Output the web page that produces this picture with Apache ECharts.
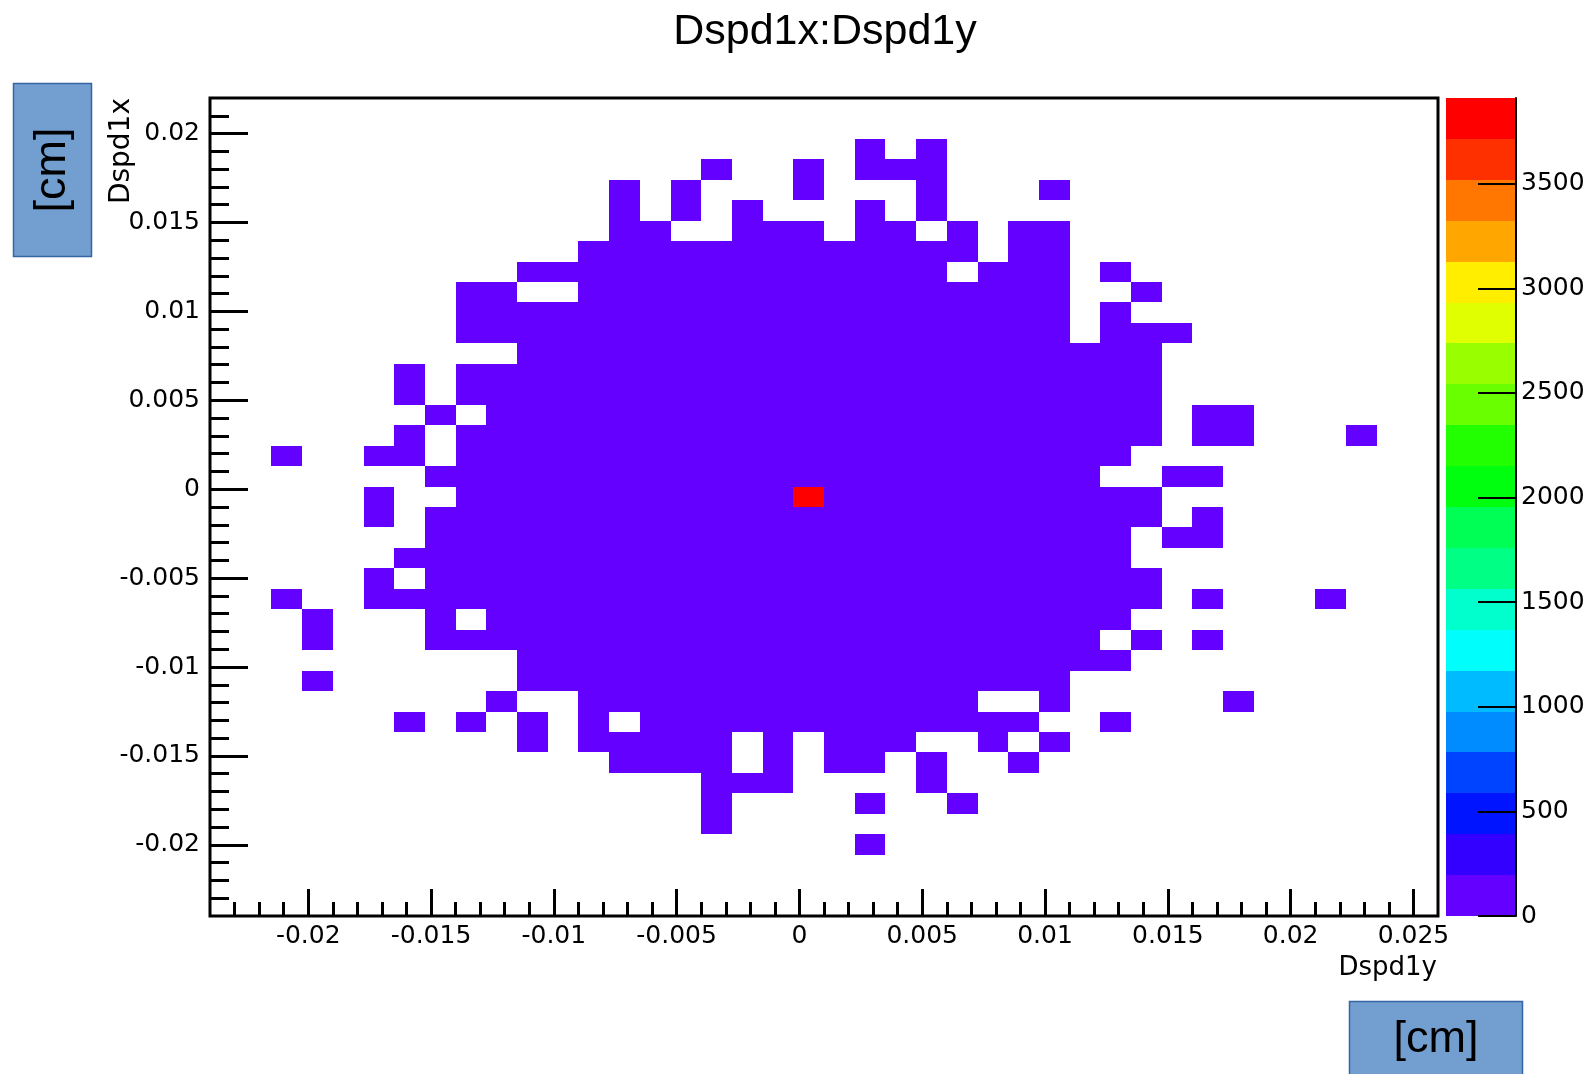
<!DOCTYPE html>
<html>
<head>
<meta charset="utf-8">
<script src="https://cdn.jsdelivr.net/npm/echarts@6/dist/echarts.min.js"></script>
<style>
html,body{margin:0;padding:0;background:#fff;}
#chart{width:1592px;height:1074px;}
</style>
</head>
<body>
<div id="chart"></div>
<script>
// ---------- data ----------
const chartTitle = 'Dspd1x:Dspd1y';
const xTitle = 'Dspd1y';
const yTitle = 'Dspd1x';
const unitLabel = '[cm]';

const xRange = [-0.024, 0.026];   // Dspd1y
const yRange = [-0.024, 0.022];   // Dspd1x
const nBinsX = 40;
const nBinsY = 40;

const xMajorTicks = [-0.02, -0.015, -0.01, -0.005, 0, 0.005, 0.01, 0.015, 0.02, 0.025];
const yMajorTicks = [-0.02, -0.015, -0.01, -0.005, 0, 0.005, 0.01, 0.015, 0.02];

const zMax = 3910;
const zTicks = [0, 500, 1000, 1500, 2000, 2500, 3000, 3500];

// colour bands of the z scale, bottom (0) to top (zMax)
const bandColors = [
  '#6300ff', '#3300ff', '#0014ff', '#0044ff', '#008bff',
  '#00bbff', '#00fffc', '#00ffcc', '#00ff85', '#00ff55',
  '#00ff0e', '#22ff00', '#69ff00', '#99ff00', '#e0ff00',
  '#ffee00', '#ffa700', '#ff7700', '#ff3000', '#ff0000'
];

// one string per y bin, top row first; one char per x bin, left to right.
// '.' = empty bin, otherwise the colour band (base-20 digit, '0' lowest, 'j' highest)
const cellRows = [
  '.......... .......... .......... ..........',
  '.......... .......... .......... ..........',
  '.......... .......... .0.0...... ..........',
  '.......... ......0..0 .000...... ..........',
  '.......... ...0.0...0 ...0...0.. ..........',
  '.......... ...0.0.0.. .0.0...... ..........',
  '.......... ...00..000 .00.0.00.. ..........',
  '.......... ..00000000 00000.00.. ..........',
  '.......... 0000000000 0000.000.0 ..........',
  '........00 ..00000000 00000000.. 0.........',
  '........00 0000000000 00000000.0 ..........',
  '........00 0000000000 00000000.0 00........',
  '.......... 0000000000 0000000000 0.........',
  '......0.00 0000000000 0000000000 0.........',
  '......0.00 0000000000 0000000000 0.........',
  '.......0.0 0000000000 0000000000 0.00......',
  '......0.00 0000000000 0000000000 0.00...0..',
  '..0..00.00 0000000000 0000000000 ..........',
  '.......000 0000000000 000000000. .00.......',
  '.....0..00 000000000j 0000000000 0.........',
  '.....0.000 0000000000 0000000000 0.0.......',
  '.......000 0000000000 0000000000 .00.......',
  '......0000 0000000000 0000000000 ..........',
  '.....0.000 0000000000 0000000000 0.........',
  '..0..00000 0000000000 0000000000 0.0...0...',
  '...0...0.0 0000000000 0000000000 ..........',
  '...0...000 0000000000 000000000. 0.0.......',
  '.......... 0000000000 0000000000 ..........',
  '...0...... 0000000000 00000000.. ..........',
  '.........0 ..00000000 00000..0.. ...0......',
  '......0.0. 0.0.000000 0000000..0 ..........',
  '.......... 0.00000.0. 000..0.0.. ..........',
  '.......... ...0000.0. 00.0..0... ..........',
  '.......... ......000. ...0...... ..........',
  '.......... ......0... .0..0..... ..........',
  '.......... ......0... .......... ..........',
  '.......... .......... .0........ ..........',
  '.......... .......... .......... ..........',
  '.......... .......... .......... ..........',
  '.......... .......... .......... ..........'
];

// ---------- build series data ----------
const xBinW = (xRange[1] - xRange[0]) / nBinsX;
const yBinH = (yRange[1] - yRange[0]) / nBinsY;
const bandSize = zMax / bandColors.length;

const cells = [];
cellRows.forEach(function (row, r) {
  const s = row.replace(/ /g, '');
  const j = nBinsY - 1 - r;
  for (let c = 0; c < s.length; c++) {
    const ch = s[c];
    if (ch === '.') continue;
    const band = parseInt(ch, 20);
    cells.push([xRange[0] + (c + 0.5) * xBinW, yRange[0] + (j + 0.5) * yBinH, (band + 0.5) * bandSize]);
  }
});

const barBands = bandColors.map(function (_, k) {
  return [k * bandSize, (k + 1) * bandSize, (k + 0.5) * bandSize];
});

const pieces = bandColors.map(function (col, k) {
  const p = { gte: k * bandSize, color: col };
  if (k === bandColors.length - 1) p.lte = zMax; else p.lt = (k + 1) * bandSize;
  return p;
});

const xMinorTicks = [];
for (let i = -23; i <= 25; i++) { if (i % 5 !== 0) xMinorTicks.push(i / 1000); }
const yMinorTicks = [];
for (let i = -23; i <= 21; i++) { if (i % 5 !== 0) yMinorTicks.push(i / 1000); }

function fmt(v) { return String(parseFloat(Number(v).toFixed(4))); }

function renderCell(params, api) {
  const i = Math.round((api.value(0) - xRange[0]) / xBinW - 0.5);
  const j = Math.round((api.value(1) - yRange[0]) / yBinH - 0.5);
  const a = api.coord([xRange[0] + i * xBinW, yRange[0] + (j + 1) * yBinH]);
  const b = api.coord([xRange[0] + (i + 1) * xBinW, yRange[0] + j * yBinH]);
  const x0 = Math.round(a[0]), y0 = Math.round(a[1]);
  const x1 = Math.round(b[0]), y1 = Math.round(b[1]);
  return { type: 'rect', shape: { x: x0, y: y0, width: x1 - x0, height: y1 - y0 },
           style: { fill: api.visual('color') } };
}
function renderBand(params, api) {
  const a = api.coord([0, api.value(1)]);
  const b = api.coord([1, api.value(0)]);
  const x0 = Math.round(a[0]), y0 = Math.round(a[1]);
  const x1 = Math.round(b[0]), y1 = Math.round(b[1]);
  return { type: 'rect', shape: { x: x0, y: y0, width: x1 - x0, height: y1 - y0 },
           style: { fill: api.visual('color') } };
}

const tickFont = { fontFamily: 'DejaVu Sans', fontSize: 25, color: '#000' };
const tickLine = { color: '#000', width: 3 };

const option = {
  animation: false,
  backgroundColor: '#fff',
  grid: [
    { left: 210, top: 98, width: 1228, height: 818, show: true, borderColor: '#000', borderWidth: 3, backgroundColor: 'transparent' },
    { left: 1446, top: 98, width: 70, height: 818, show: false }
  ],
  xAxis: [
    { gridIndex: 0, type: 'value', min: xRange[0], max: xRange[1], position: 'bottom',
      axisLine: { show: false, onZero: false }, splitLine: { show: false },
      axisTick: { show: true, inside: true, length: 27, lineStyle: tickLine, customValues: xMajorTicks },
      axisLabel: Object.assign({ show: true, margin: 8, customValues: xMajorTicks, formatter: fmt }, tickFont) },
    { gridIndex: 0, type: 'value', min: xRange[0], max: xRange[1], position: 'bottom',
      axisLine: { show: false, onZero: false }, splitLine: { show: false },
      axisTick: { show: true, inside: true, length: 14, lineStyle: tickLine, customValues: xMinorTicks },
      axisLabel: { show: false } },
    { gridIndex: 1, type: 'value', min: 0, max: 1, show: false, axisLine: { onZero: false } }
  ],
  yAxis: [
    { gridIndex: 0, type: 'value', min: yRange[0], max: yRange[1], position: 'left',
      axisLine: { show: false, onZero: false }, splitLine: { show: false },
      axisTick: { show: true, inside: true, length: 38, lineStyle: tickLine, customValues: yMajorTicks },
      axisLabel: Object.assign({ show: true, margin: 10, customValues: yMajorTicks, formatter: fmt }, tickFont) },
    { gridIndex: 0, type: 'value', min: yRange[0], max: yRange[1], position: 'left',
      axisLine: { show: false, onZero: false }, splitLine: { show: false },
      axisTick: { show: true, inside: true, length: 19, lineStyle: tickLine, customValues: yMinorTicks },
      axisLabel: { show: false } },
    { gridIndex: 1, type: 'value', min: 0, max: zMax, position: 'right', z: 10,
      axisLine: { show: true, onZero: false, lineStyle: { color: '#000', width: 2 } }, splitLine: { show: false },
      axisTick: { show: true, inside: true, length: 38, lineStyle: { color: '#000', width: 2 }, customValues: zTicks },
      axisLabel: Object.assign({ show: true, margin: 5, customValues: zTicks, formatter: function (v) { return String(Math.round(v)); } }, tickFont) }
  ],
  visualMap: {
    type: 'piecewise', show: false, dimension: 2, seriesIndex: [0, 1], pieces: pieces
  },
  series: [
    { type: 'custom', name: 'cells', xAxisIndex: 0, yAxisIndex: 0, data: cells,
      encode: { x: 0, y: 1 }, renderItem: renderCell, silent: true },
    { type: 'custom', name: 'palette', xAxisIndex: 2, yAxisIndex: 2, data: barBands,
      encode: { y: [0, 1] }, renderItem: renderBand, silent: true, z: 1 }
  ],
  graphic: [
    { type: 'text', x: 825, y: 32, style: { text: chartTitle, fontFamily: 'Liberation Sans', fontSize: 43, fill: '#000', align: 'center', verticalAlign: 'middle' } },
    { type: 'text', x: 1437, y: 968, style: { text: xTitle, fontFamily: 'DejaVu Sans', fontSize: 26, fill: '#000', align: 'right', verticalAlign: 'middle' } },
    { type: 'text', x: 122, y: 98, rotation: Math.PI / 2, style: { text: yTitle, fontFamily: 'DejaVu Sans', fontSize: 28, fill: '#000', align: 'right', verticalAlign: 'middle' } },
    { type: 'rect', shape: { x: 13.5, y: 83.5, width: 78, height: 173 }, style: { fill: '#729fcf', stroke: '#3465a4', lineWidth: 1.5 } },
    { type: 'text', x: 53, y: 170, rotation: Math.PI / 2, style: { text: unitLabel, fontFamily: 'Liberation Sans', fontSize: 45, fill: '#000', align: 'center', verticalAlign: 'middle' } },
    { type: 'rect', shape: { x: 1349.5, y: 1001.5, width: 173, height: 80 }, style: { fill: '#729fcf', stroke: '#3465a4', lineWidth: 1.5 } },
    { type: 'text', x: 1436, y: 1040, style: { text: unitLabel, fontFamily: 'Liberation Sans', fontSize: 45, fill: '#000', align: 'center', verticalAlign: 'middle' } }
  ]
};

const chart = echarts.init(document.getElementById('chart'), null, { renderer: 'canvas' });
chart.setOption(option);
</script>
</body>
</html>
